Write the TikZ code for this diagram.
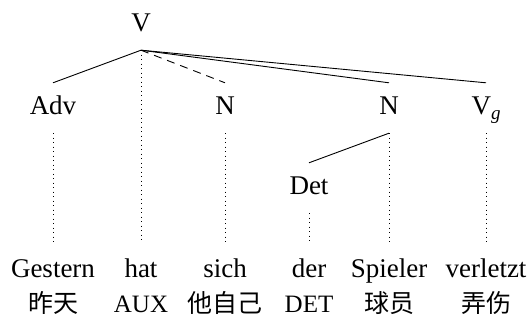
\documentclass[tikz,border=0pt]{standalone}
\usepackage{fontspec}
\setmainfont{Liberation Serif}
\newfontfamily\cjk{Noto Sans CJK SC}
\begin{document}
\begin{tikzpicture}[x=1pt,y=-1pt,
  cat/.style={anchor=base,font=\fontsize{27}{32}\selectfont,text height=22pt,text depth=8pt,inner xsep=2pt,inner ysep=10pt},
  word/.style={anchor=base,font=\fontsize{27}{32}\selectfont,text height=25pt,text depth=6pt,inner xsep=2pt,inner ysep=10pt},
  gloss/.style={anchor=base,font=\fontsize{25}{30}\selectfont,inner sep=1pt},
  edge/.style={line width=0.9pt},
  dashedge/.style={line width=0.9pt,dash pattern=on 8pt off 6pt},
  dotedge/.style={line width=0.9pt,dash pattern=on 0.9pt off 3.6pt},
]
\useasboundingbox (0,0) rectangle (528,320);
% categories
\node[cat] (V) at (141,32) {V};
\node[cat] (adv) at (53,115) {Adv};
\node[cat] (n1) at (225,115) {N};
\node[cat] (n2) at (389,115) {N};
\node[cat] (vg) at (486,115) {V\raisebox{-5pt}{\fontsize{19}{22}\selectfont\itshape g}};
\node[cat] (det) at (309,195) {Det};
% words
\node[word] (w1) at (53,278) {Gestern};
\node[word] (w2) at (141,278) {hat};
\node[word] (w3) at (225,278) {sich};
\node[word] (w4) at (309,278) {der};
\node[word] (w5) at (389,278) {Spieler};
\node[word] (w6) at (486,278) {verletzt};
% glosses
\node[gloss] (g1) at (53,313) {\cjk 昨天};
\node[gloss] (g2) at (141,313) {AUX};
\node[gloss] (g3) at (225,313) {\cjk 他自己};
\node[gloss] (g4) at (309,313) {DET};
\node[gloss] (g5) at (389,313) {\cjk 球员};
\node[gloss] (g6) at (486,313) {\cjk 弄伤};
% tree edges
\draw[edge] (V.south) -- (adv.north);
\draw[dashedge] (V.south) -- (n1.north);
\draw[edge] (V.south) -- (n2.north);
\draw[edge] (V.south) -- (vg.north);
\draw[edge] (n2.south) -- (det.north);
% dotted projections
\draw[dotedge] (V.south) -- (w2.north);
\draw[dotedge] (adv.south) -- (w1.north);
\draw[dotedge] (n1.south) -- (w3.north);
\draw[dotedge] (det.south) -- (w4.north);
\draw[dotedge] (n2.south) -- (w5.north);
\draw[dotedge] (vg.south) -- (w6.north);
\end{tikzpicture}
\end{document}
